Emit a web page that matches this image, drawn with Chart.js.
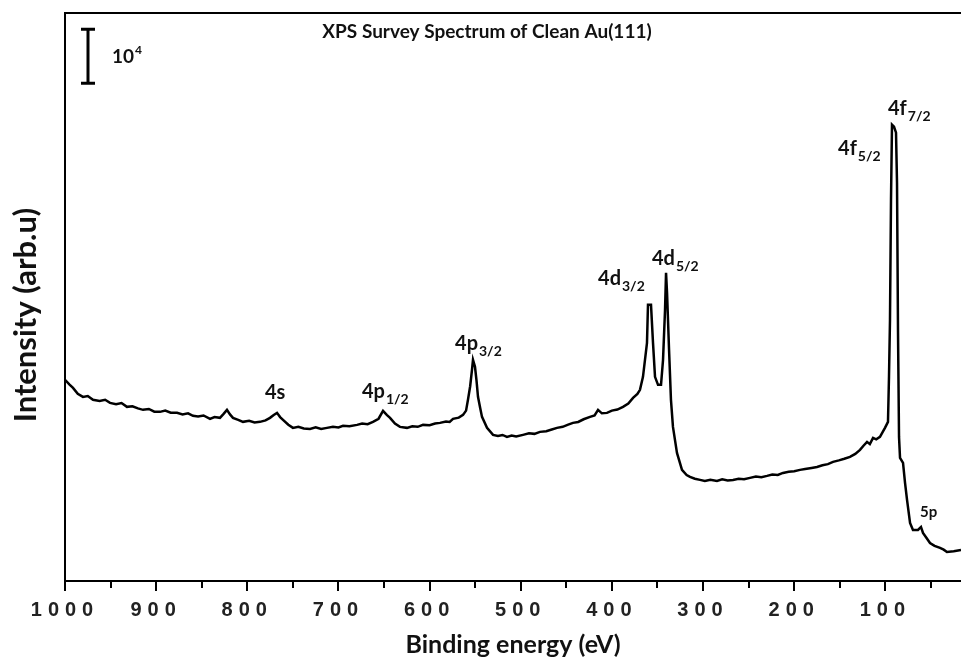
<!DOCTYPE html>
<html>
<head>
<meta charset="utf-8">
<script src="https://cdn.jsdelivr.net/npm/chart.js@4.4.1/dist/chart.umd.min.js"></script>
<style>
html,body{margin:0;padding:0;background:#fff;}
#wrap{width:961px;height:662px;position:relative;}
</style>
</head>
<body>
<div id="wrap"><canvas id="c" width="961" height="662"></canvas></div>
<script>
// ---- data (binding energy in eV, intensity in counts) ----
const bindingEnergy = [1000, 995, 991.2, 986, 980.3, 975, 969.3, 962, 956, 950.6, 944, 938, 932, 926, 920, 914.4, 908, 902, 895.8, 890, 884, 877.1, 871, 865, 859.6, 854, 848, 840.9, 836, 830, 826, 822.3, 819, 815.7, 810, 804.7, 798, 792, 786.1, 780, 775.1, 771, 767.4, 764, 760.8, 755, 749.9, 744, 738, 731.2, 725, 719, 712.6, 706, 700, 695, 688, 679.6, 674, 668, 662.1, 656, 651.1, 647, 643.4, 638, 632.5, 624.8, 619, 613, 607.2, 600, 594, 588.6, 582, 578, 574.3, 568, 563.3, 560, 557.9, 555.5, 553.5, 552.4, 550.2, 548.5, 546.9, 544.5, 542.5, 537, 530.4, 525, 520, 515.1, 510, 505, 497.5, 491, 485, 478.9, 472, 466, 460.2, 454, 448, 442.7, 437, 431, 424, 419, 415.2, 411, 405.4, 400, 394, 387.8, 382, 376.8, 372, 369.2, 365.9, 361.5, 360.4, 357.1, 354.9, 352.7, 349.4, 346.1, 343.9, 341.7, 340.6, 339.5, 337.3, 335.2, 333.0, 328.6, 323.1, 318, 314.3, 309, 303.3, 298, 292, 284.7, 279, 273, 267.1, 261, 255, 248.5, 242, 236, 229.8, 224, 218, 212.3, 206, 200, 193.6, 188, 181, 175.0, 169, 163, 157.4, 151, 145, 138.8, 133, 127.8, 124, 120.1, 117, 113.5, 110, 105.9, 103, 100.4, 97.1, 96.0, 94.9, 93.8, 92.7, 90.5, 88.3, 87.2, 86.1, 85.0, 83.9, 80.6, 78.4, 76.2, 72.9, 69.7, 64.2, 60.9, 58.7, 55, 51.0, 46, 40.0, 36, 32.4, 25, 17.0];
const intensity = [37200, 36300, 35700, 34600, 34040, 34200, 33490, 33300, 33500, 32930, 32700, 32900, 32190, 32300, 31900, 31640, 31800, 31300, 31270, 31500, 31100, 31080, 30800, 31000, 30530, 30400, 30600, 29970, 30300, 30160, 30900, 31640, 30800, 30160, 29800, 29420, 29600, 29300, 29420, 29700, 30160, 30700, 31080, 30300, 29790, 28900, 28310, 28500, 28200, 28120, 28400, 28100, 28310, 28500, 28400, 28680, 28600, 28860, 29100, 29000, 29420, 30000, 31450, 30700, 30160, 29100, 28490, 28310, 28600, 28500, 28860, 28800, 29100, 29230, 29500, 29400, 29970, 30200, 30710, 31500, 33490, 36000, 39040, 40890, 39590, 37000, 34040, 32000, 30340, 28310, 27010, 26800, 27000, 26640, 26900, 26700, 27010, 27300, 27200, 27570, 27700, 28000, 28310, 28500, 28900, 29230, 29400, 29900, 30340, 30600, 31640, 31000, 31080, 31500, 31700, 32190, 32800, 33860, 34600, 35340, 37740, 44030, 51060, 51060, 44030, 37740, 36260, 36260, 40890, 50140, 56980, 53280, 42740, 33490, 28490, 23680, 20540, 19600, 19240, 18900, 18690, 18500, 18700, 18500, 18800, 18600, 18690, 18900, 18800, 19060, 19300, 19200, 19430, 19700, 19600, 19980, 20200, 20300, 20540, 20700, 20900, 21090, 21400, 21600, 22020, 22300, 22600, 22940, 23500, 24240, 25000, 25720, 25300, 26460, 26200, 26640, 27500, 28310, 29420, 37740, 48290, 70490, 84360, 83990, 82880, 73630, 45880, 26640, 22760, 21830, 18130, 14990, 10730, 9440, 9440, 9990, 8880, 8000, 7030, 6500, 6110, 5800, 5370, 5500, 5740];
const xTickValues = [100, 200, 300, 400, 500, 600, 700, 800, 900, 1000];
const minorTickValues = [50, 150, 250, 350, 450, 550, 650, 750, 850, 950];
// peak labels: main text, subscript, anchor (energy, intensity)
const peakNames = ['4s', '4p', '4p', '4d', '4d', '4f', '4f', '5p'];
const peakSubs = ['', '1/2', '3/2', '3/2', '5/2', '5/2', '7/2', ''];
const labelEnergy = [780.6, 674.2, 572.1, 415.2, 356.0, 151.9, 97.1, 62.0];
const labelIntensity = [33670, 33860, 42740, 54760, 58460, 78810, 86210, 11840];
const scaleBarEnergy = 975;
const scaleBarFrom = 92000;
const scaleBarTo = 102000;
const chartTitle = 'XPS Survey Spectrum of Clean Au(111)';
const yTitle = 'Intensity (arb.u)';
const xTitle = 'Binding energy (eV)';

const points = bindingEnergy.map((e, i) => ({x: e, y: intensity[i]}));

const deco = {
  id: 'deco',
  afterDatasetsDraw(chart) {
    chart.ctx.letterSpacing = '6px';
  },
  afterDraw(chart) {
    const ctx = chart.ctx;
    ctx.letterSpacing = '0px';
    const xs = chart.scales.x, ys = chart.scales.y, a = chart.chartArea;
    ctx.save();
    ctx.strokeStyle = '#000';
    ctx.lineWidth = 2;
    // top frame line
    ctx.beginPath();
    ctx.moveTo(a.left - 1, a.top);
    ctx.lineTo(a.right, a.top);
    ctx.stroke();
    // minor ticks
    ctx.beginPath();
    minorTickValues.forEach(v => {
      const px = Math.round(xs.getPixelForValue(v));
      ctx.moveTo(px, a.bottom);
      ctx.lineTo(px, a.bottom + 7);
    });
    ctx.stroke();
    // scale bar
    const bx = Math.round(xs.getPixelForValue(scaleBarEnergy));
    const by1 = ys.getPixelForValue(scaleBarTo), by2 = ys.getPixelForValue(scaleBarFrom);
    ctx.lineWidth = 3;
    ctx.beginPath();
    ctx.moveTo(bx, by1); ctx.lineTo(bx, by2);
    ctx.moveTo(bx - 7, by1); ctx.lineTo(bx + 7, by1);
    ctx.moveTo(bx - 7, by2); ctx.lineTo(bx + 7, by2);
    ctx.stroke();
    ctx.fillStyle = '#111';
    ctx.textBaseline = 'alphabetic';
    ctx.textAlign = 'left';
    ctx.font = 'bold 19px Lato, "Open Sans", sans-serif';
    const ty = (by1 + by2) / 2 + 7;
    ctx.fillText('10', bx + 24, ty);
    const w10 = ctx.measureText('10').width;
    ctx.font = 'bold 12px Lato, "Open Sans", sans-serif';
    ctx.fillText('4', bx + 24 + w10 + 1, ty - 9);
    // title
    ctx.font = 'bold 19px Lato, "Open Sans", sans-serif';
    ctx.textAlign = 'center';
    ctx.fillText(chartTitle, 487, a.top + 25);
    // y axis title
    ctx.save();
    ctx.translate(26, 315);
    ctx.rotate(-Math.PI / 2);
    ctx.textBaseline = 'middle';
    ctx.font = 'bold 31px Lato, "Open Sans", sans-serif';
    ctx.fillText(yTitle, 0, 0);
    ctx.restore();
    // peak labels
    ctx.textAlign = 'left';
    peakNames.forEach((n, i) => {
      const px = xs.getPixelForValue(labelEnergy[i]);
      const py = ys.getPixelForValue(labelIntensity[i]);
      const big = n === '5p' ? 15 : 20;
      ctx.font = 'bold ' + big + 'px Lato, "Open Sans", sans-serif';
      ctx.fillText(n, px, py);
      const w = ctx.measureText(n).width;
      if (peakSubs[i]) {
        ctx.font = 'bold 14px Lato, "Open Sans", sans-serif';
        ctx.fillText(peakSubs[i], px + w + 1, py + 6);
      }
    });
    ctx.restore();
  }
};

new Chart(document.getElementById('c'), {
  type: 'line',
  data: {
    datasets: [{
      data: points,
      borderColor: '#000',
      borderWidth: 2.5,
      pointRadius: 0,
      tension: 0,
      fill: false
    }]
  },
  options: {
    responsive: false,
    animation: false,
    devicePixelRatio: 1,
    parsing: false,
    layout: {padding: {top: 13, right: 0, left: 0, bottom: 0}},
    plugins: {legend: {display: false}, tooltip: {enabled: false}},
    scales: {
      x: {
        type: 'linear',
        reverse: true,
        min: 17,
        max: 1000,
        afterBuildTicks: s => { s.ticks = xTickValues.map(v => ({value: v})); },
        afterFit: s => { s.height = 81; },
        ticks: {
          callback: v => String(v),
          font: {family: '"Liberation Sans", Arial, sans-serif', weight: 'bold', size: 20},
          color: '#222',
          padding: 7,
          maxRotation: 0,
          autoSkip: false,
          z: 1
        },
        grid: {drawOnChartArea: false, drawTicks: true, tickLength: 10, color: '#000', lineWidth: 2},
        border: {display: true, color: '#000', width: 2},
        title: {
          display: true,
          text: xTitle,
          font: {family: 'Lato, "Open Sans", sans-serif', weight: 'bold', size: 25},
          color: '#111',
          padding: {top: 0, bottom: 2}
        }
      },
      y: {
        min: 0,
        max: 105000,
        afterFit: s => { s.width = 65; },
        ticks: {display: false},
        grid: {display: false},
        border: {display: true, color: '#000', width: 2},
        title: {display: false, text: yTitle}
      }
    }
  },
  plugins: [deco]
});
</script>
</body>
</html>
